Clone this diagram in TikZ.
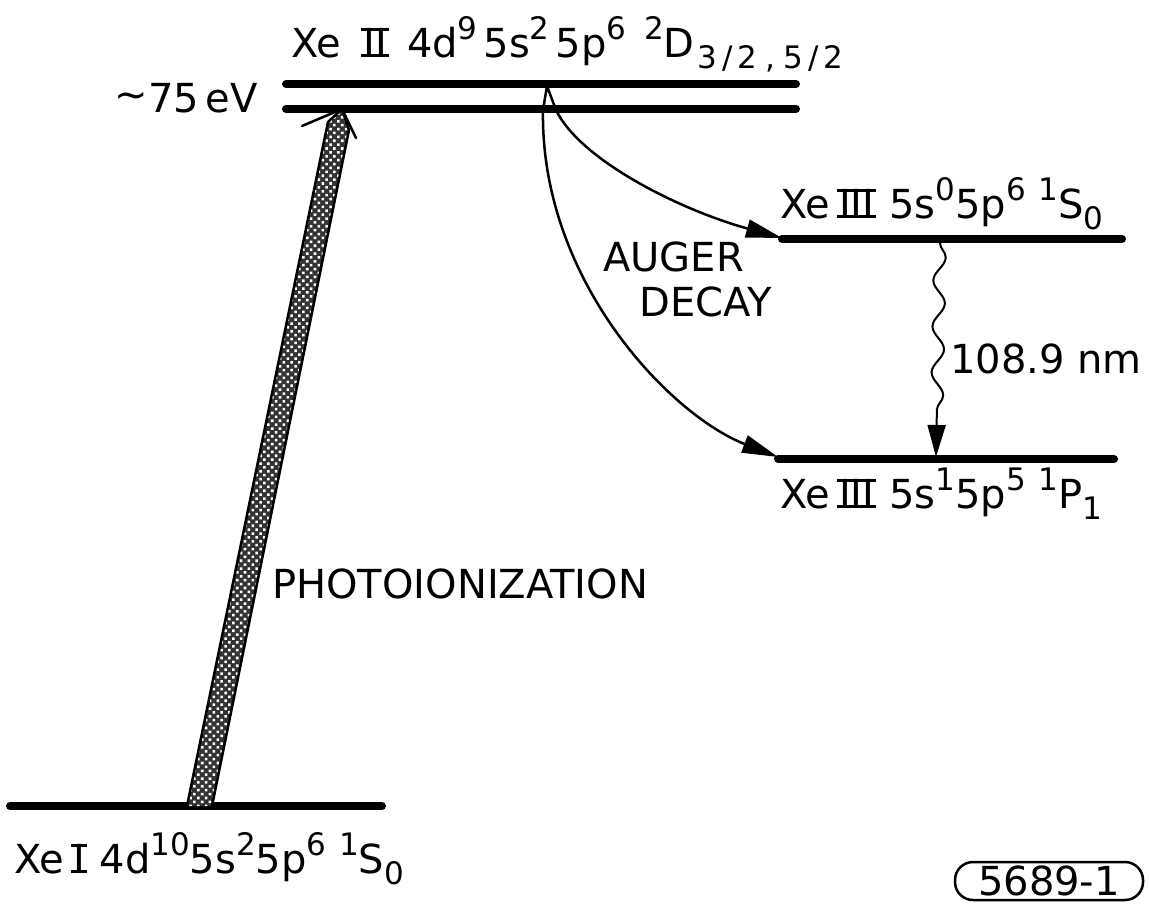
\documentclass[tikz,border=0pt]{standalone}
\usepackage{fontspec}
\setmainfont{DejaVu Sans}
\usetikzlibrary{arrows.meta,decorations.pathmorphing,patterns.meta}
\newcommand\hi[1]{\raisebox{0.45em}{\fontsize{31}{31}\selectfont #1}}
\newcommand\lo[1]{\raisebox{-0.28em}{\fontsize{31}{31}\selectfont #1}}
\newcommand\rom[1]{\setbox0\hbox{\kern2pt#1\kern2pt}%
  \rlap{\rule{\wd0}{3pt}}\rlap{\rule[\dimexpr\ht0-3pt]{\wd0}{3pt}}\box0\relax}
\begin{document}
\begin{tikzpicture}[x=1pt,y=-1pt,
  every node/.style={inner sep=0pt, font=\fontsize{40}{48}\selectfont},
  lvl/.style={line width=8pt, line cap=round},
  auger/.style={line width=2.5pt, -{Triangle[length=36pt,width=18pt]}},
  wavy/.style={line width=2pt, -{Triangle[length=32pt,width=18pt]},
    decorate, decoration={snake, amplitude=6pt, segment length=46pt, post length=40pt}}]
\useasboundingbox (0,0) rectangle (1150,903);
% levels
\coordinate (t1a) at (286,84);  \coordinate (t1b) at (796,84);
\coordinate (t2a) at (286,109); \coordinate (t2b) at (796,109);
\coordinate (s0a) at (782,239); \coordinate (s0b) at (1122,239);
\coordinate (p1a) at (778,459); \coordinate (p1b) at (1114,459);
\coordinate (ga) at (10,806);   \coordinate (gb) at (382,806);
\draw[lvl] (t1a) -- (t1b);
\draw[lvl] (t2a) -- (t2b);
\draw[lvl] (s0a) -- (s0b);
\draw[lvl] (p1a) -- (p1b);
\draw[lvl] (ga) -- (gb);
% labels
\node[anchor=base west] (lxe2) at (291,57) {Xe\hspace{20pt}\rom{II}\hspace{18pt}4d\hi{9}\kern6pt 5s\hi{2}\kern6pt 5p\hi{6}\hspace{18pt}\hi{2}D\lo{\kern3pt 3\kern5pt/\kern5pt2\kern8pt,\kern8pt5\kern5pt/\kern5pt2}};
\node[anchor=base east] (lev) at (258,112) {\raisebox{0.1em}{\char`~}75\,eV};
\node[anchor=base west] (ls0) at (780,218) {Xe\,\rom{III} 5s\hi{0}5p\hi{6} \hi{1}S\lo{0}};
\node[anchor=base west] (lp1) at (780,508) {Xe\,\rom{III} 5s\hi{1}5p\hi{5} \hi{1}P\lo{1}};
\node[anchor=base west] (lg) at (14,873) {Xe\,\rom{I} 4d\hi{10}5s\hi{2}5p\hi{6} \hi{1}S\lo{0}};
\node[anchor=base west] (lnm) at (950,373) {108.9 nm};
\node[anchor=base west] (lau) at (603,271) {AUGER};
\node[anchor=base west] (lde) at (639,316) {DECAY};
\node[anchor=base west] (lph) at (272,598) {PHOTOIONIZATION};
\node[draw, line width=2.5pt, rounded corners=18pt, minimum width=188pt, minimum height=38pt] (tag) at (1049,881) {5689-1};
% photoionization arrow
\coordinate (pbl) at (187,806); \coordinate (pbr) at (212,806);
\coordinate (ptr) at (349,130); \coordinate (ptl) at (328,122);
\coordinate (ptip) at (342,109);
\coordinate (pwl) at (302,126); \coordinate (pwr) at (356,138);
\fill[black!80] (pbl) -- (pbr) -- (ptr) -- (ptip) -- (ptl) -- cycle;
\fill[pattern={Dots[radius=1.8pt,distance=5.5pt,angle=45]}, pattern color=white]
  (pbl) -- (pbr) -- (ptr) -- (ptip) -- (ptl) -- cycle;
\draw[line width=2.5pt, line join=round] (pbl) -- (ptl) -- (ptip) -- (ptr) -- (pbr);
\draw[line width=2.5pt, line cap=round] (pwl) -- (ptip) -- (pwr);
% auger decay
\coordinate (ap) at (547,86);
\coordinate (al) at (543,110);
\coordinate (ar) at (556,110);
\coordinate (s0end) at (782,238);
\coordinate (p1end) at (778,457);
\draw[line width=2.5pt] (al) -- (ap) -- (ar);
\draw[auger] (ar) .. controls (580,160) and (680,210) .. (s0end);
\draw[auger] (al) .. controls (540,280) and (670,415) .. (p1end);
% radiative decay
\coordinate (wtop) at (940,243);
\coordinate (wbot) at (936,457);
\draw[wavy] (wtop) -- (wbot);
\end{tikzpicture}
\end{document}
